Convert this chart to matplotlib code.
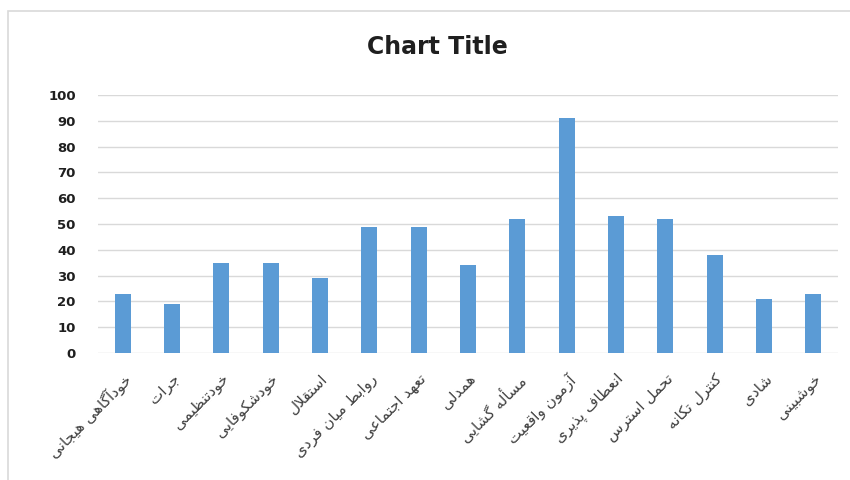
import matplotlib
matplotlib.use('Agg')
import matplotlib.pyplot as plt
import matplotlib.patches as patches

# Data
labels = ['خودآگاهی هیجانی', 'جرات', 'خودتنظیمی', 'خودشکوفایی', 'استقلال',
          'روابط میان فردی', 'تعهد اجتماعی', 'همدلی', 'مسأله گشایی',
          'آزمون واقعیت', 'انعطاف پذیری', 'تحمل استرس', 'کنترل تکانه',
          'شادی', 'خوشبینی']
values = [23, 19, 35, 35, 29, 49, 49, 34, 52, 91, 53, 52, 38, 21, 23]
yticks = list(range(0, 101, 10))

# Arabic/Persian contextual forms: (isolated, final, initial, medial)
FORMS = {
    'ا': (0xFE8D, 0xFE8E), 'آ': (0xFE81, 0xFE82), 'أ': (0xFE83, 0xFE84),
    'د': (0xFEA9, 0xFEAA), 'ذ': (0xFEAB, 0xFEAC), 'ر': (0xFEAD, 0xFEAE),
    'ز': (0xFEAF, 0xFEB0), 'و': (0xFEED, 0xFEEE), 'ژ': (0xFB8A, 0xFB8B),
    'ب': (0xFE8F, 0xFE90, 0xFE91, 0xFE92), 'پ': (0xFB56, 0xFB57, 0xFB58, 0xFB59),
    'ت': (0xFE95, 0xFE96, 0xFE97, 0xFE98), 'ج': (0xFE9D, 0xFE9E, 0xFE9F, 0xFEA0),
    'ح': (0xFEA1, 0xFEA2, 0xFEA3, 0xFEA4), 'خ': (0xFEA5, 0xFEA6, 0xFEA7, 0xFEA8),
    'س': (0xFEB1, 0xFEB2, 0xFEB3, 0xFEB4), 'ش': (0xFEB5, 0xFEB6, 0xFEB7, 0xFEB8),
    'ط': (0xFEC1, 0xFEC2, 0xFEC3, 0xFEC4), 'ظ': (0xFEC5, 0xFEC6, 0xFEC7, 0xFEC8),
    'ع': (0xFEC9, 0xFECA, 0xFECB, 0xFECC), 'ف': (0xFED1, 0xFED2, 0xFED3, 0xFED4),
    'ق': (0xFED5, 0xFED6, 0xFED7, 0xFED8), 'ک': (0xFB8E, 0xFB8F, 0xFB90, 0xFB91),
    'گ': (0xFB92, 0xFB93, 0xFB94, 0xFB95), 'ل': (0xFEDD, 0xFEDE, 0xFEDF, 0xFEE0),
    'م': (0xFEE1, 0xFEE2, 0xFEE3, 0xFEE4), 'ن': (0xFEE5, 0xFEE6, 0xFEE7, 0xFEE8),
    'ه': (0xFEE9, 0xFEEA, 0xFEEB, 0xFEEC), 'ی': (0xFBFC, 0xFBFD, 0xFBFE, 0xFBFF),
}
LAM_ALEF = {'ا': (0xFEFB, 0xFEFC), 'آ': (0xFEF5, 0xFEF6), 'أ': (0xFEF7, 0xFEF8)}


def shape(text):
    # lam-alef ligature handled as a single unit
    units = []
    i = 0
    while i < len(text):
        if text[i] == 'ل' and i + 1 < len(text) and text[i + 1] in LAM_ALEF:
            units.append(('LA', text[i + 1]))
            i += 2
        else:
            units.append(('C', text[i]))
            i += 1

    def joins_next(u):
        if u[0] == 'LA':
            return False
        f = FORMS.get(u[1])
        return f is not None and len(f) == 4

    def joinable(u):
        return u[0] == 'LA' or u[1] in FORMS

    out = []
    for k, u in enumerate(units):
        prev_j = k > 0 and joins_next(units[k - 1]) and joinable(u)
        nxt = units[k + 1] if k + 1 < len(units) else None
        next_j = nxt is not None and joins_next(u) and joinable(nxt)
        if u[0] == 'LA':
            f = LAM_ALEF[u[1]]
            out.append(chr(f[1] if prev_j else f[0]))
            continue
        f = FORMS.get(u[1])
        if f is None:
            out.append(u[1])
            continue
        if len(f) == 2:
            out.append(chr(f[1] if prev_j else f[0]))
        else:
            if prev_j and next_j:
                out.append(chr(f[3]))
            elif prev_j:
                out.append(chr(f[1]))
            elif next_j:
                out.append(chr(f[2]))
            else:
                out.append(chr(f[0]))
    return ''.join(reversed(out))


fig = plt.figure(figsize=(8.5, 4.8), dpi=100)
ax = fig.add_axes([98 / 850, 1 - 353 / 480, 740 / 850, 258 / 480])

# chart area border (left and top only visible)
fig.patches.append(patches.Rectangle((8 / 850, -0.1), 1.2, 1 - 11 / 480 + 0.1,
                                     transform=fig.transFigure, fill=False,
                                     edgecolor='#d9d9d9', linewidth=1.2))

x = list(range(len(values)))
ax.bar(x, values, width=0.33, color='#5b9bd5', zorder=3)

ax.set_xlim(-0.5, len(values) - 0.5)
ax.set_ylim(0, 100)
ax.set_yticks(yticks)
ax.set_yticklabels([str(t) for t in yticks], fontsize=9.5, fontweight='bold', color='#1f1f1f')
ax.grid(axis='y', color='#d9d9d9', linewidth=1, zorder=0)
for s in ax.spines.values():
    s.set_visible(False)
ax.tick_params(axis='both', length=0)
ax.tick_params(axis='y', pad=16)

ax.set_xticks(x)
ax.set_xticklabels([shape(l) for l in labels], rotation=45, ha='right',
                   rotation_mode='anchor', fontsize=11, color='#404040',
                   family='DejaVu Sans')
ax.tick_params(axis='x', pad=13)

fig.text(437 / 850, 1 - 47 / 480, 'Chart Title', ha='center', va='center',
         fontsize=17, fontweight='bold', color='#1f1f1f')

fig.savefig('out.png', dpi=100)
